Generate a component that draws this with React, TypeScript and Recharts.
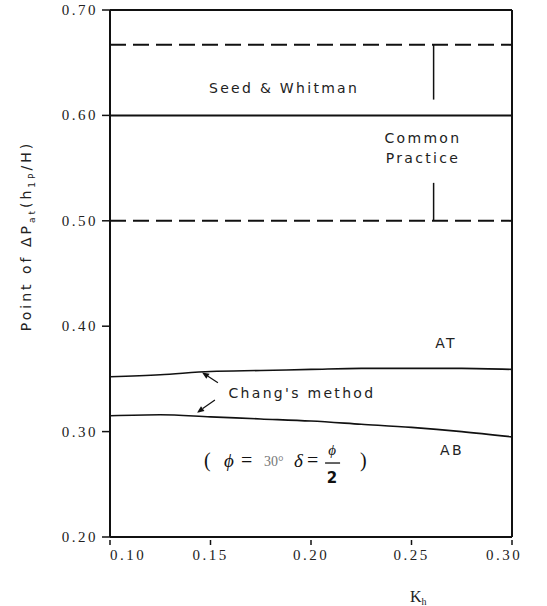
import React from "react";
import { LineChart, Line, XAxis, YAxis, ReferenceLine, ReferenceDot } from "recharts";

const khValues = [0.1, 0.125, 0.15, 0.175, 0.2, 0.225, 0.25, 0.275, 0.3];
const atValues = [0.352, 0.354, 0.357, 0.358, 0.359, 0.36, 0.36, 0.36, 0.359];
const abValues = [0.315, 0.316, 0.314, 0.312, 0.31, 0.307, 0.304, 0.3, 0.295];
const xTicks = [0.1, 0.15, 0.2, 0.25, 0.3];
const xTickLabels = ["0.10", "0.15", "0.20", "0.25", "0.30"];
const yTicks = [0.2, 0.3, 0.4, 0.5, 0.6, 0.7];
const yTickLabels = ["0.20", "0.30", "0.40", "0.50", "0.60", "0.70"];

const seedWhitmanLevel = 0.667;
const rankineLevel = 0.6;
const commonPracticeLevel = 0.5;
const bracketX = 0.261;
const bracketUpperEnd = 0.615;
const bracketLowerStart = 0.536;

const textLabels = [
  { x: 0.1866, y: 0.626, text: "Seed & Whitman" },
  { x: 0.2557, y: 0.5786, text: "Common" },
  { x: 0.2557, y: 0.5596, text: "Practice" },
  { x: 0.2672, y: 0.384, text: "AT" },
  { x: 0.2701, y: 0.2826, text: "AB" },
  { x: 0.1955, y: 0.3366, text: "Chang's method" },
];
const formulaPos = { x: 0.1866, y: 0.2664 };
const arrows = [
  { x1: 0.1537, y1: 0.3464, x2: 0.1458, y2: 0.356 },
  { x1: 0.1522, y1: 0.33, x2: 0.1433, y2: 0.318 },
];

const data = khValues.map((k, i) => ({ kh: k, at: atValues[i], ab: abValues[i] }));

const FONT = "'DejaVu Sans', sans-serif";
const SERIF = "'Liberation Serif', serif";

const YTick = (props: any) => {
  const { x, y, payload, index } = props;
  const i = yTicks.indexOf(payload.value);
  return (
    <g>
      <line x1={x} y1={y} x2={x + 8} y2={y} stroke="#111" strokeWidth={1.5} />
      <text x={x - 4} y={y + 5} textAnchor="end" fontFamily={SERIF} fontSize={15} letterSpacing={2.5} fill="#222">
        {yTickLabels[i >= 0 ? i : index]}
      </text>
    </g>
  );
};

const XTick = (props: any) => {
  const { x, y, payload, index } = props;
  const i = xTicks.indexOf(payload.value);
  const dx = i === 0 ? 18 : i === xTicks.length - 1 ? -8 : 0;
  return (
    <g>
      <line x1={x} y1={y} x2={x} y2={y - 5} stroke="#111" strokeWidth={1.5} />
      <text x={x + dx} y={y + 15} textAnchor="middle" fontFamily={SERIF} fontSize={15} letterSpacing={2.5} fill="#222">
        {xTickLabels[i >= 0 ? i : index]}
      </text>
    </g>
  );
};

const arrowShape = (p: any) => {
  const { x1, y1, x2, y2 } = p;
  const ang = Math.atan2(y2 - y1, x2 - x1);
  const L = 7;
  const w = 3;
  const bx = x2 - L * Math.cos(ang);
  const by = y2 - L * Math.sin(ang);
  const px = -Math.sin(ang) * w;
  const py = Math.cos(ang) * w;
  return (
    <g>
      <line x1={x1} y1={y1} x2={bx} y2={by} stroke="#111" strokeWidth={1.2} />
      <polygon points={`${x2},${y2} ${bx + px},${by + py} ${bx - px},${by - py}`} fill="#111" />
    </g>
  );
};

const formulaContent = (p: any) => {
  const { x, y } = p.viewBox;
  return (
    <g fontFamily={SERIF} fill="#111">
      <text x={x - 80} y={y} fontSize={20}>(</text>
      <text x={x - 60} y={y} fontSize={19} fontStyle="italic">ϕ</text>
      <text x={x - 43} y={y} fontSize={20}>=</text>
      <text x={x - 20} y={y - 1} fontSize={14} fill="#777">30°</text>
      <text x={x + 10} y={y} fontSize={19} fontStyle="italic">δ</text>
      <text x={x + 23} y={y} fontSize={20}>=</text>
      <text x={x + 48} y={y - 12} fontSize={15} fontStyle="italic" textAnchor="middle">ϕ</text>
      <line x1={x + 41} y1={y - 4} x2={x + 56} y2={y - 4} stroke="#111" strokeWidth={1.3} />
      <text x={x + 48} y={y + 16} fontSize={15} fontFamily={FONT} fontWeight="bold" textAnchor="middle">2</text>
      <text x={x + 76} y={y} fontSize={20}>)</text>
    </g>
  );
};

export default function App() {
  return (
    <div style={{ position: "absolute", left: 0, top: 0, width: 547, height: 606, background: "#fff" }}>
      <LineChart width={547} height={606} data={data} margin={{ top: 10, right: 35, bottom: 29, left: 0 }}>
        <XAxis
          dataKey="kh"
          type="number"
          domain={[0.1, 0.3]}
          ticks={xTicks}
          tick={<XTick />}
          tickLine={false}
          axisLine={{ stroke: "#111", strokeWidth: 2 }}
          height={40}
          allowDataOverflow
        />
        <YAxis
          type="number"
          domain={[0.2, 0.7]}
          ticks={yTicks}
          tick={<YTick />}
          tickLine={false}
          axisLine={{ stroke: "#111", strokeWidth: 2 }}
          width={110}
          allowDataOverflow
        />
        <ReferenceLine y={0.7} stroke="#111" strokeWidth={2} />
        <ReferenceLine x={0.3} stroke="#111" strokeWidth={2} />
        <ReferenceLine y={seedWhitmanLevel} stroke="#111" strokeWidth={2} strokeDasharray="16 7" />
        <ReferenceLine y={rankineLevel} stroke="#111" strokeWidth={2} />
        <ReferenceLine y={commonPracticeLevel} stroke="#111" strokeWidth={2} strokeDasharray="16 7" />
        <ReferenceLine
          segment={[{ x: bracketX, y: seedWhitmanLevel }, { x: bracketX, y: bracketUpperEnd }]}
          stroke="#111"
          strokeWidth={1.5}
        />
        <ReferenceLine
          segment={[{ x: bracketX, y: bracketLowerStart }, { x: bracketX, y: commonPracticeLevel }]}
          stroke="#111"
          strokeWidth={1.5}
        />
        {arrows.map((a, i) => (
          <ReferenceLine
            key={"ar" + i}
            segment={[{ x: a.x1, y: a.y1 }, { x: a.x2, y: a.y2 }]}
            shape={arrowShape}
          />
        ))}
        <Line dataKey="at" type="monotone" stroke="#111" strokeWidth={1.6} dot={false} isAnimationActive={false} />
        <Line dataKey="ab" type="monotone" stroke="#111" strokeWidth={1.6} dot={false} isAnimationActive={false} />
        {textLabels.map((t, i) => (
          <ReferenceDot
            key={"t" + i}
            x={t.x}
            y={t.y}
            r={0}
            stroke="none"
            fill="none"
            label={{
              content: (p: any) => (
                <text
                  x={p.viewBox.x}
                  y={p.viewBox.y + 5}
                  textAnchor="middle"
                  fontFamily={FONT}
                  fontSize={14}
                  letterSpacing={2.3}
                  fill="#222"
                >
                  {t.text}
                </text>
              ),
            }}
          />
        ))}
        <ReferenceDot x={formulaPos.x} y={formulaPos.y} r={0} stroke="none" fill="none" label={{ content: formulaContent }} />
      </LineChart>
      <svg width={547} height={606} style={{ position: "absolute", left: 0, top: 0, pointerEvents: "none" }}>
        <text
          transform="translate(31,236) rotate(-90)"
          textAnchor="middle"
          fontFamily={FONT}
          fontSize={14}
          letterSpacing={3}
          fill="#222"
        >
          Point of ΔP
          <tspan fontSize={9} dy={4}>at</tspan>
          <tspan dy={-4}>(h</tspan>
          <tspan fontSize={9} dy={4}>1P</tspan>
          <tspan dy={-4}>/H)</tspan>
        </text>
        <text x={410} y={602} fontFamily={SERIF} fontSize={16} fill="#222">
          K<tspan fontSize={10} dy={3}>h</tspan>
        </text>
      </svg>
    </div>
  );
}
